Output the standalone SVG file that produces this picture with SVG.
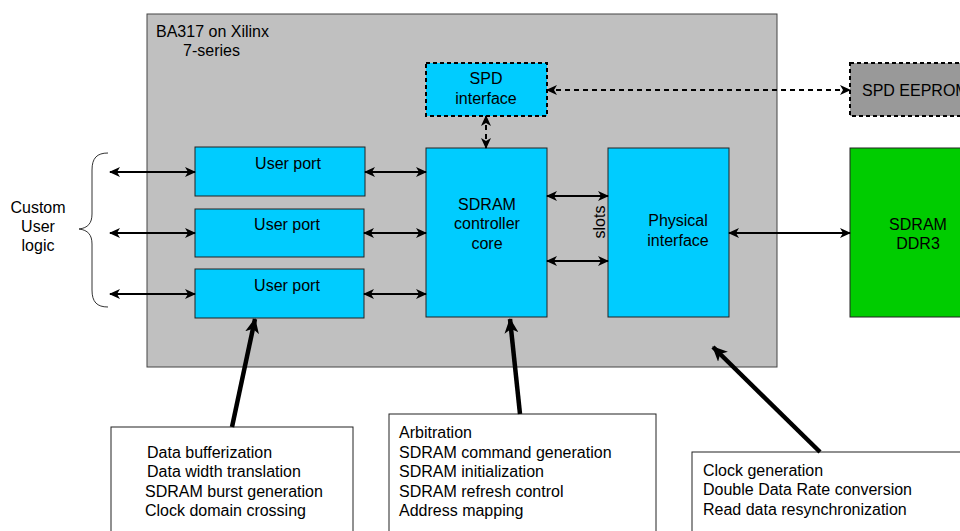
<svg xmlns="http://www.w3.org/2000/svg" width="960" height="531" viewBox="0 0 960 531">
  <defs>
    <style>
      text { font-family: "Liberation Sans", Arial, sans-serif; font-size: 16px; fill: #000; }
      .mid { text-anchor: middle; }
      .blk { fill: #00ccff; stroke: #222; stroke-width: 1; }
      .dash { stroke-dasharray: 4 3; stroke-width: 2; stroke: #000; }
      .link { stroke: #000; stroke-width: 2; fill: none; }
      .dlink { stroke: #000; stroke-width: 2; fill: none; stroke-dasharray: 5 4; }
      .thick { stroke: #000; stroke-width: 4.5; fill: none; }
      .note { fill: #fff; stroke: #222; stroke-width: 1; }
    </style>
    <marker id="ah" markerUnits="userSpaceOnUse" markerWidth="12" markerHeight="10" refX="10" refY="5" orient="auto-start-reverse" viewBox="0 0 12 10">
      <path d="M0,0 L11,5 L0,10 L3,5 Z" fill="#000"/>
    </marker>
    <marker id="big" markerUnits="userSpaceOnUse" markerWidth="16" markerHeight="14" refX="14" refY="7" orient="auto" viewBox="0 0 16 14">
      <path d="M0,0 L15,7 L0,14 L4,7 Z" fill="#000"/>
    </marker>
  </defs>

  <!-- FPGA container -->
  <g id="fpga">
    <rect x="147" y="14" width="630" height="353" fill="#c0c0c0" stroke="#444" stroke-width="1"/>
    <text x="156" y="37">BA317 on Xilinx</text>
    <text x="183" y="56">7-series</text>
  </g>

  <g id="spd-interface">
    <rect class="blk dash" x="426" y="63" width="121" height="53"/>
    <text class="mid" x="486" y="84">SPD</text>
    <text class="mid" x="486" y="104">interface</text>
  </g>

  <g id="spd-eeprom">
    <rect x="850" y="63" width="120" height="53" fill="#999999" class="dash"/>
    <text x="862" y="96">SPD EEPROM</text>
  </g>

  <g id="user-port-1">
    <rect class="blk" x="195" y="147" width="170" height="49"/>
    <text class="mid" x="288" y="169">User port</text>
  </g>
  <g id="user-port-2">
    <rect class="blk" x="195" y="209" width="169" height="48"/>
    <text class="mid" x="287" y="230">User port</text>
  </g>
  <g id="user-port-3">
    <rect class="blk" x="195" y="269" width="169" height="49"/>
    <text class="mid" x="287" y="291">User port</text>
  </g>

  <g id="controller-core">
    <rect class="blk" x="426" y="148" width="121" height="169"/>
    <text class="mid" x="487" y="210">SDRAM</text>
    <text class="mid" x="487" y="229">controller</text>
    <text class="mid" x="487" y="249">core</text>
  </g>

  <g id="phy">
    <rect class="blk" x="608" y="148" width="121" height="169"/>
    <text class="mid" x="678" y="226">Physical</text>
    <text class="mid" x="678" y="246">interface</text>
  </g>

  <g id="ddr3">
    <rect x="850" y="148" width="120" height="169" fill="#00cc00" stroke="#222" stroke-width="1"/>
    <text class="mid" x="918" y="230">SDRAM</text>
    <text class="mid" x="918" y="249">DDR3</text>
  </g>

  <g id="custom-logic">
    <text class="mid" x="38" y="213">Custom</text>
    <text class="mid" x="38" y="232">User</text>
    <text class="mid" x="38" y="251">logic</text>
    <path d="M108,153 C97,153 92,158 92,170 L92,214 C92,223 88,228 79,229 C88,230 92,235 92,244 L92,290 C92,302 97,307 108,307" fill="none" stroke="#333" stroke-width="1"/>
  </g>

  <g id="note-ports">
    <rect class="note" x="111" y="427" width="242" height="110"/>
    <text x="147" y="458">Data bufferization</text>
    <text x="147" y="477">Data width translation</text>
    <text x="145" y="497">SDRAM burst generation</text>
    <text x="145" y="516">Clock domain crossing</text>
  </g>

  <g id="note-core">
    <rect class="note" x="389" y="414" width="267" height="123"/>
    <text x="399" y="438">Arbitration</text>
    <text x="399" y="458">SDRAM command generation</text>
    <text x="399" y="477">SDRAM initialization</text>
    <text x="399" y="497">SDRAM refresh control</text>
    <text x="399" y="516">Address mapping</text>
  </g>

  <g id="note-phy">
    <rect class="note" x="692" y="452" width="280" height="85"/>
    <text x="703" y="476">Clock generation</text>
    <text x="703" y="495">Double Data Rate conversion</text>
    <text x="703" y="515">Read data resynchronization</text>
  </g>

  <text x="605" y="222" transform="rotate(-90 605 222)" class="mid">slots</text>

  <!-- connectors -->
  <g id="connectors">
    <line class="link" x1="110" y1="172" x2="195" y2="172" marker-start="url(#ah)" marker-end="url(#ah)"/>
    <line class="link" x1="110" y1="233" x2="195" y2="233" marker-start="url(#ah)" marker-end="url(#ah)"/>
    <line class="link" x1="110" y1="294" x2="195" y2="294" marker-start="url(#ah)" marker-end="url(#ah)"/>
    <line class="link" x1="365" y1="172" x2="426" y2="172" marker-start="url(#ah)" marker-end="url(#ah)"/>
    <line class="link" x1="364" y1="233" x2="426" y2="233" marker-start="url(#ah)" marker-end="url(#ah)"/>
    <line class="link" x1="364" y1="294" x2="426" y2="294" marker-start="url(#ah)" marker-end="url(#ah)"/>
    <line class="link" x1="547" y1="196" x2="608" y2="196" marker-start="url(#ah)" marker-end="url(#ah)"/>
    <line class="link" x1="547" y1="261" x2="608" y2="261" marker-start="url(#ah)" marker-end="url(#ah)"/>
    <line class="link" x1="729" y1="233" x2="850" y2="233" marker-start="url(#ah)" marker-end="url(#ah)"/>
    <line class="dlink" x1="547" y1="90" x2="850" y2="90" marker-start="url(#ah)" marker-end="url(#ah)"/>
    <line class="dlink" x1="486" y1="116" x2="486" y2="148" marker-start="url(#ah)" marker-end="url(#ah)"/>
    <line class="thick" x1="232" y1="427" x2="255" y2="319" marker-end="url(#big)"/>
    <line class="thick" x1="520" y1="414" x2="510" y2="319" marker-end="url(#big)"/>
    <line class="thick" x1="820" y1="452" x2="713" y2="347" marker-end="url(#big)"/>
  </g>
</svg>
